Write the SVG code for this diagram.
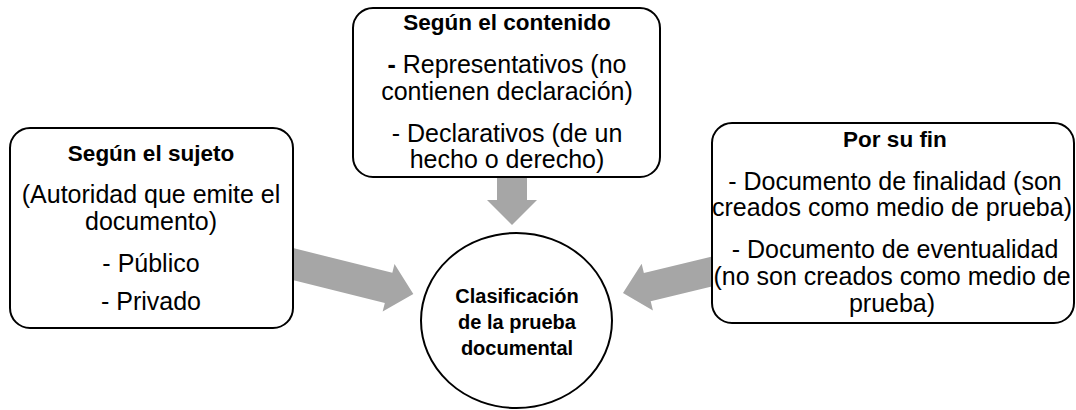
<svg xmlns="http://www.w3.org/2000/svg" width="1076" height="410" viewBox="0 0 1076 410">
<style>
.box{fill:#fff;stroke:#000;stroke-width:2}
.arr{fill:#a6a6a6;stroke:none}
text{font-family:"Liberation Sans",Arial,sans-serif;fill:#000;text-anchor:middle}
.t{font-size:22.5px;font-weight:bold}
.b{font-size:25px}
.c{font-size:20px;font-weight:bold}
</style>
<rect width="1076" height="410" fill="#fff"/>
<g id="connectors">
<polygon class="arr" points="497,170 527,170 527,200 537,200 512,225 487,200 497,200"/>
<polygon class="arr" transform="translate(283.3,261.6) rotate(14)" points="0,-15.5 108.5,-15.5 108.5,-24.5 134,0 108.5,24.5 108.5,15.5 0,15.5"/>
<polygon class="arr" transform="translate(719.7,269.6) rotate(166.4)" points="0,-14.5 74.5,-14.5 74.5,-24 99.5,0 74.5,24 74.5,14.5 0,14.5"/>
</g>
<g id="sujeto">
<rect class="box" x="10" y="128" width="283" height="200" rx="20" ry="20"/>
<text class="t" x="151" y="161">Según el sujeto</text>
<text class="b" x="151" y="203">(Autoridad que emite el</text>
<text class="b" x="151" y="230">documento)</text>
<text class="b" x="151" y="272">- Público</text>
<text class="b" x="151" y="310">- Privado</text>
</g>
<g id="contenido">
<rect class="box" x="353" y="8" width="307" height="169" rx="20" ry="20"/>
<text class="t" x="507" y="30">Según el contenido</text>
<text class="b" x="507" y="73"><tspan font-weight="bold">-</tspan> Representativos (no</text>
<text class="b" x="507" y="100">contienen declaración)</text>
<text class="b" x="507" y="142">- Declarativos (de un</text>
<text class="b" x="507" y="168">hecho o derecho)</text>
</g>
<g id="fin">
<rect class="box" x="712" y="123" width="362" height="200" rx="20" ry="20"/>
<text class="t" x="895" y="147">Por su fin</text>
<text class="b" x="895" y="190">- Documento de finalidad (son</text>
<text class="b" x="892" y="216">creados como medio de prueba)</text>
<text class="b" x="895" y="258">- Documento de eventualidad</text>
<text class="b" x="892" y="285">(no son creados como medio de</text>
<text class="b" x="892" y="312">prueba)</text>
</g>
<g id="clasificacion">
<ellipse class="box" cx="516.5" cy="320.5" rx="95.5" ry="87.5"/>
<text class="c" x="517" y="303">Clasificación</text>
<text class="c" x="517" y="329">de la prueba</text>
<text class="c" x="517" y="355">documental</text>
</g>
</svg>
